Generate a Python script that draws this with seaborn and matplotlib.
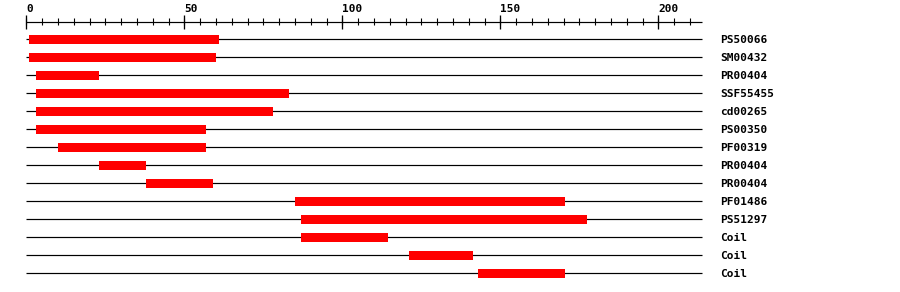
import matplotlib
matplotlib.use("Agg")
import matplotlib.pyplot as plt
import seaborn as sns
import numpy as np

labels = ["PS50066", "SM00432", "PR00404", "SSF55455", "cd00265", "PS00350",
          "PF00319", "PR00404", "PR00404", "PF01486", "PS51297", "Coil", "Coil", "Coil"]
starts = [1, 1, 3, 3, 3, 3, 10, 23, 38, 85, 87, 87, 121, 143]
ends = [61, 60, 23, 83, 78, 57, 57, 38, 59, 170.5, 177.5, 114.5, 141.5, 170.5]
seq_len = 213.7
major_ticks = [0, 50, 100, 150, 200]
minor_step = 5

sns.set_style("white")
plt.rcParams['font.family'] = ['DejaVu Sans Mono']

W, H, DPI = 900, 292, 100
fig = plt.figure(figsize=(W / DPI, H / DPI), dpi=DPI)
ax = fig.add_axes([0, 0, 1, 1])

x0px, ppu = 26.3, 3.16
row0px, rowpx = 39.0, 18.0
ax.set_xlim(-x0px / ppu, (W - x0px) / ppu)
ax.set_ylim((H - row0px) / rowpx, -row0px / rowpx)
ax.axis("off")

def py(p):
    return (p - row0px) / rowpx

lw = 72 / DPI
n = len(labels)
rows = np.arange(n)
# track lines
ax.hlines(rows, 0, seq_len, color="black", linewidth=lw * 1.2, zorder=1)
# domain bars
ax.barh(rows, [e - s for s, e in zip(starts, ends)], left=starts, height=9 / rowpx,
        color="#ff0000", linewidth=0, zorder=2)
# labels
for i, lab in enumerate(labels):
    ax.text((720 - x0px) / ppu, i, lab, fontsize=8, fontweight="bold",
            ha="left", va="center_baseline", color="black")

# ruler
ax.hlines(py(21.7), 0, seq_len, color="black", linewidth=lw * 1.2)
minor = np.arange(0, 211, minor_step)
ax.vlines(minor, py(18), py(25), color="black", linewidth=lw * 1.1)
ax.vlines(major_ticks, py(15), py(28.5), color="black", linewidth=lw * 1.3)
for t in major_ticks:
    ax.text(t, py(12.5), str(t), fontsize=8, fontweight="bold", ha="left",
            va="baseline", color="black")

fig.savefig("out.png", dpi=DPI)
